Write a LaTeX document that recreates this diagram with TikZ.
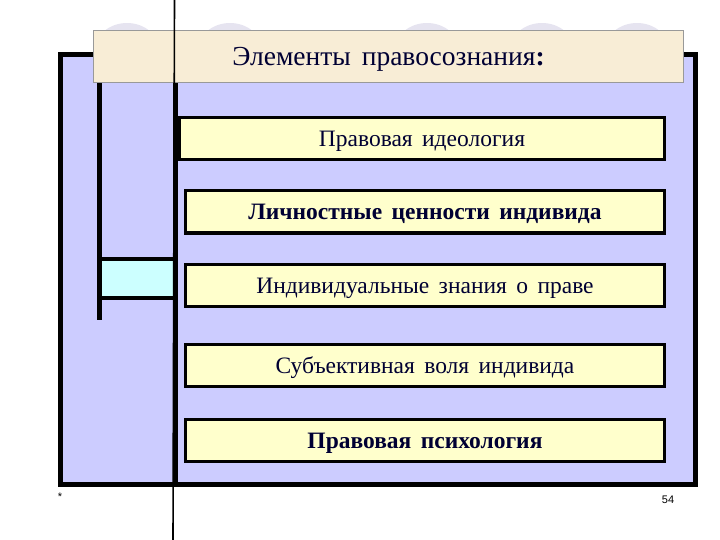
\documentclass[tikz,border=0pt]{standalone}
\usepackage{fontspec}
\setmainfont{Liberation Serif}
\newfontfamily\numfont{Liberation Sans}
\usetikzlibrary{positioning}
\definecolor{frameblue}{HTML}{CCCCFF}
\definecolor{boxyellow}{HTML}{FFFFCC}
\definecolor{titlebeige}{HTML}{F8EDD6}
\definecolor{inkblue}{HTML}{000033}
\definecolor{cyanbox}{HTML}{CCFFFF}
\definecolor{ghost}{HTML}{E6E4F0}
\newcommand\widegaps{\spaceskip 0.4em\relax}
\tikzset{
  itembox/.style={draw=black, line width=3pt, fill=boxyellow, minimum height=42pt,
    inner sep=0pt, text depth=0pt, text=inkblue,
    font=\fontsize{23.5}{26}\selectfont\widegaps},
  boldbox/.style={itembox, font=\fontsize{23.5}{26}\selectfont\bfseries\widegaps},
  thickbar/.style={line width=5pt}
}
\begin{document}
\begin{tikzpicture}[x=1pt, y=-1pt]
          \useasboundingbox (0,0) rectangle (720,540);
          \foreach \x in {127, 230, 427, 542, 637}
            \fill[ghost] (\x,50) ellipse (32 and 27);
          \draw[thickbar, fill=frameblue] (60,55) rectangle (695,484);
          \fill[cyanbox] (99,259) rectangle (176,298);
          \draw[thickbar] (99,80) -- (99,320);
          \draw[line width=4pt] (99,259) -- (176,259) (99,298) -- (176,298);
          \draw[thickbar] (175,80) -- (175,486);
          \node[itembox, minimum width=485] (ideol) at (422,139) {Правовая идеология};
          \node[boldbox, minimum width=479] (value) at (425,212) {Личностные ценности индивида};
          \node[itembox, minimum width=479] (know) at (425,285.5) {Индивидуальные знания о праве};
          \node[itembox, minimum width=479] (will) at (425,365) {Субъективная воля индивида};
          \node[boldbox, minimum width=479] (psych) at (425,440.5) {Правовая психология};
          \node[draw=gray!80, fill=titlebeige, minimum width=590, minimum height=52, inner sep=0pt,
            text depth=0pt, text=inkblue, font=\fontsize{27.5}{30}\selectfont\widegaps] (title) at (388.5,56) {Элементы правосознания\textbf{:}};
          \draw[line width=1.6pt] (174.5,0) -- (173,540);
          \node[font=\numfont\fontsize{11}{13}\selectfont] (star) at (60,497) {*};
          \node[font=\numfont\fontsize{11}{13}\selectfont] (page) at (668,500) {54};
        \end{tikzpicture}
\end{document}
